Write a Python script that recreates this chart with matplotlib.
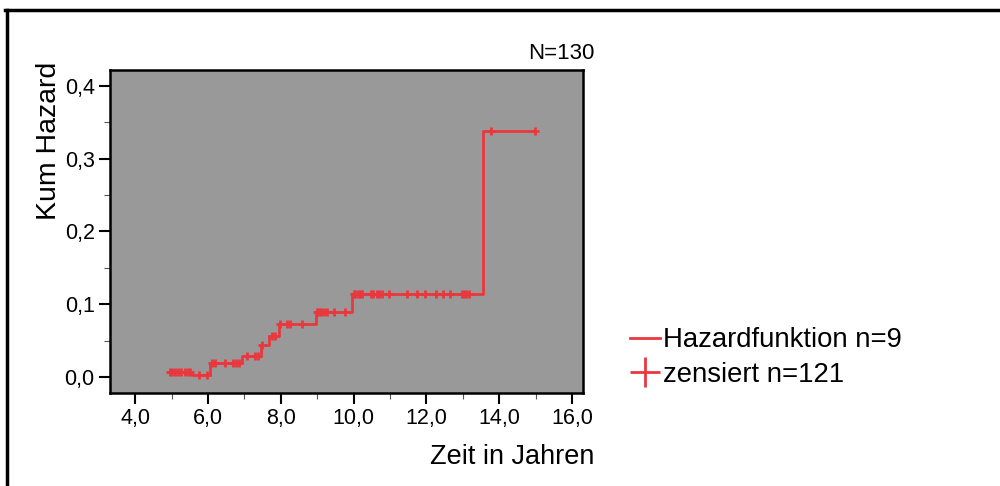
import numpy as np
import matplotlib
matplotlib.use("Agg")
import matplotlib.pyplot as plt
from matplotlib.lines import Line2D
from matplotlib.ticker import FixedLocator, FuncFormatter

# ---- data ----
event_times = [4.93, 5.55, 6.06, 6.93, 7.46, 7.68, 7.96, 8.97, 9.96, 13.56]
cum_hazard = [0.007, 0.003, 0.019, 0.029, 0.044, 0.056, 0.073, 0.089, 0.114, 0.338]
end_time = 14.99
censor_times = [4.95, 5.02, 5.10, 5.18, 5.27, 5.36, 5.45, 5.52,
                5.76, 5.98,
                6.10, 6.19, 6.48, 6.69, 6.78, 6.86,
                7.08, 7.30, 7.37,
                7.49,
                7.77, 7.85,
                7.99, 8.18, 8.26, 8.57,
                9.00, 9.05, 9.11, 9.19, 9.27, 9.47, 9.77,
                10.00, 10.05, 10.11, 10.17, 10.24, 10.48, 10.53, 10.64, 10.70,
                10.79, 10.98, 11.47, 11.74, 11.96, 12.26, 12.46, 12.65, 12.98,
                13.03, 13.10, 13.17,
                13.78, 14.99]
x_ticks = [4, 6, 8, 10, 12, 14, 16]
y_ticks = [0.0, 0.1, 0.2, 0.3, 0.4]
legend_labels = ["Hazardfunktion n=9", "zensiert n=121"]
n_total_label = "N=130"
x_label = "Zeit in Jahren"
y_label = "Kum Hazard"

RED = "#e8383e"
plt.rcParams['font.family'] = ['Liberation Sans', 'DejaVu Sans']

fig = plt.figure(figsize=(10, 4.86), dpi=100)
ax = fig.add_axes([0.110, 0.1914, 0.473, 0.6646])
ax.set_facecolor("#999999")

xs = list(event_times) + [end_time]
ys = list(cum_hazard) + [cum_hazard[-1]]
ax.step(xs, ys, where='post', color=RED, lw=2.0, zorder=3)

ct = np.array(censor_times)
idx = np.searchsorted(np.array(event_times), ct, side='right') - 1
cy = np.array(cum_hazard)[idx]
ax.plot(ct, cy, linestyle='none', marker='+', color=RED, ms=6, mew=2.0, zorder=4)

ax.set_xlim(3.31, 16.3)
ax.set_ylim(-0.022, 0.422)
ax.xaxis.set_major_locator(FixedLocator(x_ticks))
ax.xaxis.set_minor_locator(FixedLocator([5, 7, 9, 11, 13, 15]))
ax.yaxis.set_major_locator(FixedLocator(y_ticks))
ax.yaxis.set_minor_locator(FixedLocator([0.05, 0.15, 0.25, 0.35]))
ax.xaxis.set_major_formatter(FuncFormatter(lambda v, p: f"{v:.1f}".replace('.', ',')))
ax.yaxis.set_major_formatter(FuncFormatter(lambda v, p: f"{v:.1f}".replace('.', ',')))
ax.tick_params(which='major', direction='out', length=8, width=1.5, labelsize=15.5, pad=3, color='black')
ax.tick_params(which='minor', direction='out', length=4, width=0.8, color='#555555')

for s in ax.spines.values():
    s.set_linewidth(1.8)
    s.set_color('black')

ax.set_xlabel(x_label, fontsize=19.5)
ax.xaxis.set_label_coords(1.024, -0.158)
ax.xaxis.label.set_horizontalalignment('right')
ax.set_ylabel(y_label, fontsize=20.5)
ax.yaxis.set_label_coords(-0.102, 0.78)

ax.text(1.024, 1.02, n_total_label, transform=ax.transAxes, ha='right', va='bottom', fontsize=16)

handles = [Line2D([], [], color=RED, lw=2.0),
           Line2D([], [], color=RED, lw=0, marker='+', ms=22, mew=2.0)]
fig.legend(handles, legend_labels, loc='upper left', bbox_to_anchor=(0.619, 0.349),
           frameon=False, fontsize=19.8, handlelength=1.1, handletextpad=0.1,
           labelspacing=0.3, borderaxespad=0)

# outer frame (top and left)
fig.add_artist(Line2D([0.005, 1.0], [1 - 10 / 486, 1 - 10 / 486], color='black', lw=2.5,
                      transform=fig.transFigure))
fig.add_artist(Line2D([0.0065, 0.0065], [0.0, 1 - 10 / 486], color='black', lw=2.5,
                      transform=fig.transFigure))

fig.savefig("out.png", dpi=100)
